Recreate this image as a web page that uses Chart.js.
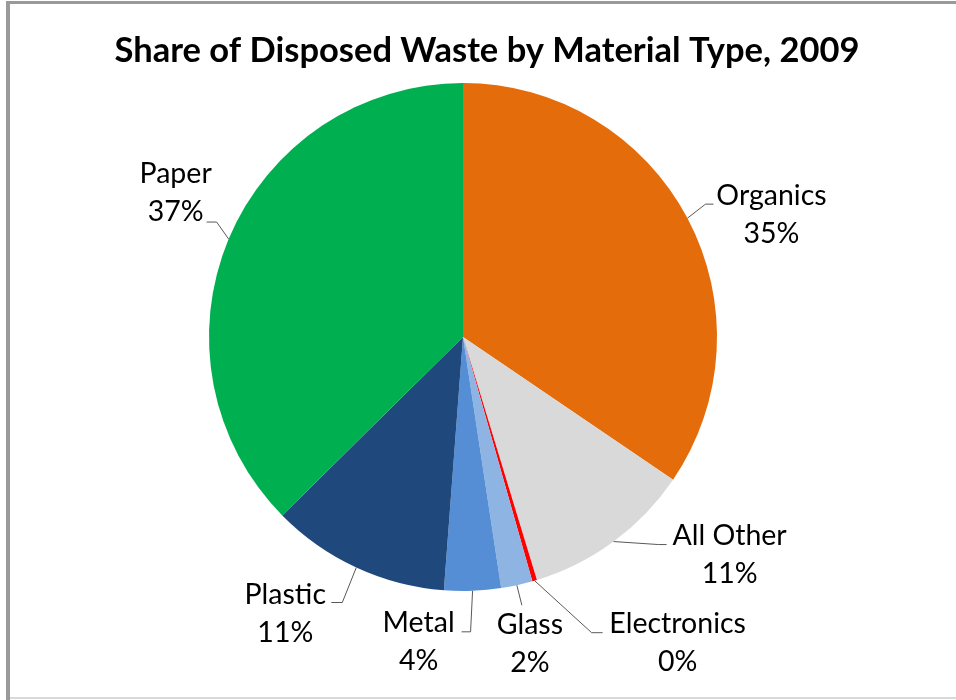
<!DOCTYPE html>
<html>
<head>
<meta charset="utf-8">
<script src="https://cdn.jsdelivr.net/npm/chart.js@4.4.1/dist/chart.umd.min.js"></script>
<style>
  html, body { margin: 0; padding: 0; background: #fff; }
  canvas { display: block; }
</style>
</head>
<body>
<canvas id="wasteChart" width="956" height="700"></canvas>
<script>
// data (share of disposed waste, %)
const categories = ['Organics', 'All Other', 'Electronics', 'Glass', 'Metal', 'Plastic', 'Paper'];
const shares = [34.5, 10.8, 0.3, 2.0, 3.6, 11.4, 37.4];
const sliceColors = ['#E46C0A', '#D9D9D9', '#FF0000', '#8EB4E3', '#558ED5', '#1F497D', '#00B050'];

const chartTitle = 'Share of Disposed Waste by Material Type, 2009';

// label placement, relative to the point where the slice middle meets the rim
// elbow: end of slanted leader, tail: horizontal bit, tx: text centre, ty: first baseline
const labelLayout = [
  { elbow: [18, -14], tail: 8,   tx: 84,   ty: -13 },
  { elbow: [45, 3],   tail: 8,   tx: 116,  ty: 3 },
  { elbow: [57, 52],  tail: 11,  tx: 143,  ty: 52 },
  { elbow: [5, 20],   tail: 0,   tx: 13,   ty: 49 },
  { elbow: [-2, 41],  tail: -9,  tx: -54,  ty: 41 },
  { elbow: [-14, 35], tail: -11, tx: -71,  ty: 36 },
  { elbow: [-12, -17],tail: -10, tx: -53,  ty: -56 }
];

const LABEL_FONT = '28.5px Lato';
const LINE_GAP = 38;

// frame and title drawn straight onto the canvas
const framePlugin = {
  id: 'frame',
  beforeDraw(chart) {
    const ctx = chart.ctx;
    ctx.save();
    ctx.fillStyle = '#fff';
    ctx.fillRect(0, 0, chart.width, chart.height);
    ctx.fillStyle = '#9a9a9a';
    ctx.fillRect(6, 1, chart.width - 6, 3);
    ctx.fillRect(6, 1, 4, chart.height - 1);
    ctx.fillStyle = '#d9d9d9';
    ctx.fillRect(10, 697, chart.width - 10, 2);
    ctx.restore();
  },
  afterDraw(chart) {
    const ctx = chart.ctx;
    ctx.save();
    ctx.font = 'bold 34.5px Lato';
    ctx.fillStyle = '#000';
    ctx.textAlign = 'center';
    ctx.textBaseline = 'alphabetic';
    ctx.fillText(chartTitle, 487, 62);
    ctx.restore();
  }
};

const sliceLabels = {
  id: 'sliceLabels',
  afterDatasetsDraw(chart) {
    const ctx = chart.ctx;
    const meta = chart.getDatasetMeta(0);
    const values = chart.data.datasets[0].data;
    const total = values.reduce((a, b) => a + b, 0);
    ctx.save();
    meta.data.forEach((arc, i) => {
      const p = arc.getProps(['x', 'y', 'startAngle', 'endAngle', 'outerRadius'], true);
      const mid = (p.startAngle + p.endAngle) / 2;
      const ax = p.x + Math.cos(mid) * p.outerRadius;
      const ay = p.y + Math.sin(mid) * p.outerRadius;
      const L = labelLayout[i];
      const ex = ax + L.elbow[0], ey = ay + L.elbow[1];

      ctx.strokeStyle = '#595959';
      ctx.lineWidth = 1;
      ctx.beginPath();
      ctx.moveTo(ax, ay);
      ctx.lineTo(ex, ey);
      if (L.tail) ctx.lineTo(ex + L.tail, ey);
      ctx.stroke();

      ctx.fillStyle = '#000';
      ctx.font = LABEL_FONT;
      ctx.textAlign = 'center';
      ctx.textBaseline = 'alphabetic';
      const pct = Math.round(values[i] / total * 100) + '%';
      ctx.fillText(chart.data.labels[i], ax + L.tx, ay + L.ty);
      ctx.fillText(pct, ax + L.tx, ay + L.ty + LINE_GAP);
    });
    ctx.restore();
  }
};

const ctx = document.getElementById('wasteChart').getContext('2d');
const wasteChart = new Chart(ctx, {
  type: 'pie',
  data: {
    labels: categories,
    datasets: [{
      data: shares,
      backgroundColor: sliceColors,
      borderWidth: 0
    }]
  },
  options: {
    responsive: false,
    animation: false,
    events: [],
    layout: {
      padding: { top: 83, bottom: 109, left: 209, right: 239 }
    },
    plugins: {
      legend: { display: false },
      title: { display: false },
      tooltip: { enabled: false }
    }
  },
  plugins: [framePlugin, sliceLabels]
});
</script>
</body>
</html>
